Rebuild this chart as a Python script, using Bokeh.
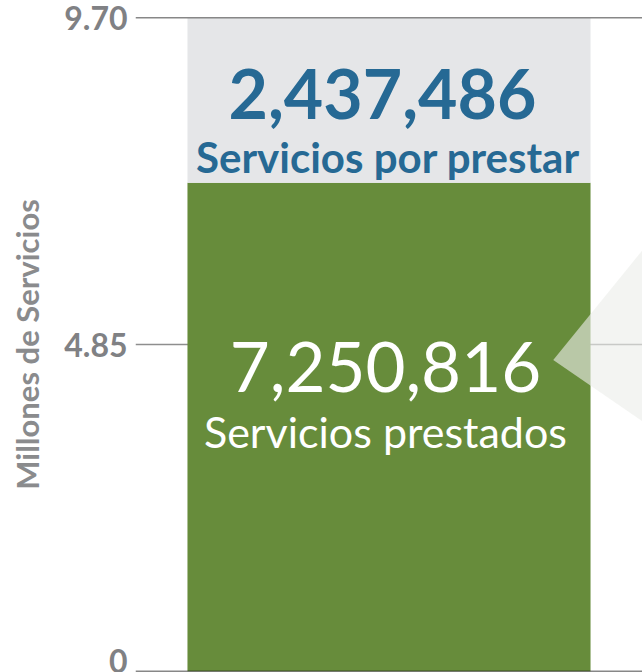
from bokeh.plotting import figure
from bokeh.models import Range1d, FixedTicker, Span, ColumnDataSource
from bokeh.core.properties import value
from bokeh.embed import file_html
from bokeh.resources import INLINE

# ---- data ----
categories = ["Servicios"]
prestados = [7.250816]        # millones
por_prestar = [2.437486]      # millones
value_labels = ["7,250,816", "2,437,486"]
name_labels = ["Servicios prestados", "Servicios por prestar"]
y_ticks = [0, 4.85, 9.70]
y_tick_labels = ["0", "4.85", "9.70"]

FONT = "Lato"
GREEN = "#678c3b"
GREY_BLOCK = "#e5e6e8"
BLUE = "#266994"
TICK_GREY = "#808184"

p = figure(width=642, height=672, output_backend="svg", toolbar_location=None,
           x_range=Range1d(0, 1), y_range=Range1d(0, 9.70),
           min_border_left=135, min_border_right=0, min_border_top=17, min_border_bottom=1)
p.outline_line_color = None
p.background_fill_color = "white"
p.border_fill_color = "white"
p.xaxis.visible = False
p.xgrid.visible = False

p.ygrid.ticker = FixedTicker(ticks=[y_ticks[1]])
p.ygrid.grid_line_color = "#8e8e8e"
p.ygrid.grid_line_width = 1.5

yax = p.yaxis[0]
yax.ticker = FixedTicker(ticks=y_ticks)
yax.major_label_overrides = {t: l for t, l in zip(y_ticks, y_tick_labels)}
yax.axis_line_color = None
yax.major_tick_line_color = None
yax.minor_tick_line_color = None
yax.major_label_standoff = 2
yax.major_label_text_font = FONT
yax.major_label_text_font_style = "bold"
yax.major_label_text_font_size = "32px"
yax.major_label_text_color = TICK_GREY
yax.axis_label = "Millones de Servicios"
yax.axis_label_text_font = FONT
yax.axis_label_text_font_style = "bold"
yax.axis_label_text_font_size = "31px"
yax.axis_label_text_color = "#8a8b8d"
yax.axis_label_standoff = 15

# stacked bar
src = ColumnDataSource(dict(x=[0.5], prestados=prestados, por_prestar=por_prestar))
p.vbar_stack(["prestados", "por_prestar"], x="x", width=0.795, source=src,
             color=[GREEN, GREY_BLOCK], line_color=None)

# callout pointer (decorative, pointing to the right)
p.patch(x=[0.824, 1.0, 1.0], y=[4.62, 6.25, 3.71],
        fill_color="#eceeea", fill_alpha=0.62, line_color=None)

# frame lines top and bottom
for yv in (y_ticks[0], y_ticks[2]):
    p.add_layout(Span(location=yv, dimension="width", line_color="#111111", line_width=1.5))

# labels
p.text(x=[0.487], y=[8.567], text=[value_labels[1]], text_font=value(FONT),
       text_font_style="bold", text_font_size="68px", text_color=BLUE,
       text_align="center", text_baseline="alphabetic")
p.text(x=[0.498], y=[7.63], text=[name_labels[1]], text_font=value(FONT),
       text_font_style="bold", text_font_size="42px", text_color=BLUE,
       text_align="center", text_baseline="alphabetic")
p.text(x=[0.493], y=[4.517], text=[value_labels[0]], text_font=value(FONT),
       text_font_style="normal", text_font_size="69px", text_color="white",
       text_align="center", text_baseline="alphabetic")
p.text(x=[0.493], y=[3.556], text=[name_labels[0]], text_font=value(FONT),
       text_font_style="normal", text_font_size="43px", text_color="white",
       text_align="center", text_baseline="alphabetic")

open("out.html", "w").write(file_html(p, INLINE))
